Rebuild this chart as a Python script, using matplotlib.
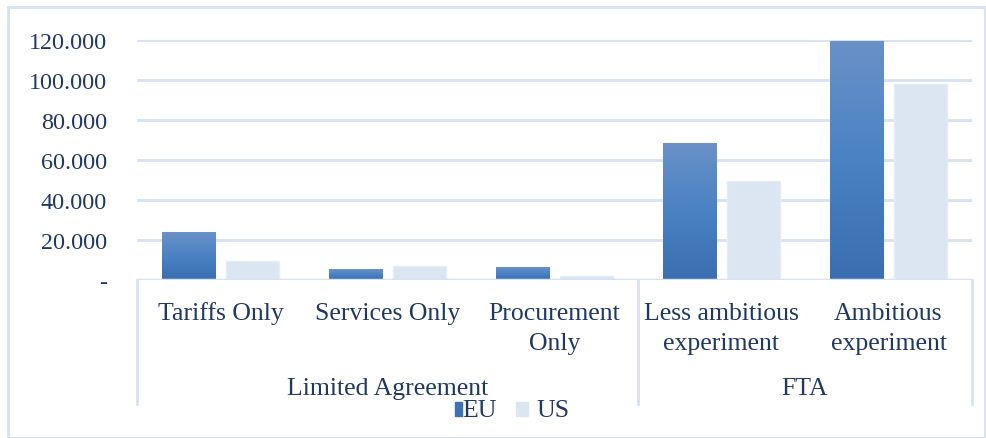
import matplotlib
matplotlib.use("Agg")
import matplotlib.pyplot as plt
import numpy as np
from matplotlib.patches import Rectangle
from matplotlib.lines import Line2D
import matplotlib.transforms as mtransforms
from matplotlib.colors import LinearSegmentedColormap

categories = ["Tariffs Only", "Services Only", "Procurement\nOnly",
              "Less ambitious\nexperiment", "Ambitious\nexperiment"]
groups = ["Limited Agreement", "FTA"]
group_sizes = [3, 2]
eu = [24.0, 5.5, 6.5, 68.5, 119.5]
us = [9.3, 7.2, 1.8, 49.5, 98.0]
yticks = [0, 20, 40, 60, 80, 100, 120]
ytick_labels = ["-", "20.000", "40.000", "60.000", "80.000", "100.000", "120.000"]
series = ["EU", "US"]

W, H = 987, 439
fig = plt.figure(figsize=(W / 100, H / 100), dpi=100)
plt.rcParams['font.family'] = ['Liberation Serif', 'DejaVu Serif']
txt = "#203864"
grid_c = "#D6E1F2"
us_c = "#DCE6F2"
fs = 18.5

ax = fig.add_axes([137 / W, 1 - 281 / H, (972 - 137) / W, (281 - 41) / H])
ax.set_xlim(-0.5, len(categories) - 0.5)
ax.set_ylim(0, 120)
for s in ax.spines.values():
    s.set_visible(False)
ax.set_yticks(yticks)
ax.set_yticklabels(ytick_labels, fontsize=17.4, color=txt)
ax.tick_params(axis='y', length=0, pad=21.6)
ax.set_xticks([])
ax.yaxis.grid(True, color=grid_c, lw=2)
ax.set_axisbelow(True)

x = np.arange(len(categories))
bw = 0.32
off = 0.19
grad = np.linspace(0, 1, 256).reshape(-1, 1)
cmap = LinearSegmentedColormap.from_list("g", ["#3A6EB0", "#4A82C4", "#6A91C8"])
for xi, v in zip(x, eu):
    ax.imshow(grad, cmap=cmap, origin='lower', aspect='auto',
              extent=(xi - off - bw / 2, xi - off + bw / 2, 0, v), zorder=2)
ax.bar(x + off, us, width=bw, color=us_c, edgecolor="#E4ECF6", lw=1, zorder=2)
ax.set_xlim(-0.5, len(categories) - 0.5)
ax.set_ylim(0, 120)

ax.axhline(0, color=grid_c, lw=2.5, zorder=3)

trans = mtransforms.blended_transform_factory(ax.transData, fig.transFigure)
def fy(py):
    return 1 - py / H

bounds = [-0.5]
acc = -0.5
for g in group_sizes:
    acc += g
    bounds.append(acc)
for b in bounds:
    fig.add_artist(Line2D([b, b], [fy(281), fy(405)], transform=trans,
                          color=grid_c, lw=2))

for xi, c in zip(x, categories):
    for k, line in enumerate(c.split("\n")):
        fig.text(xi, fy(320 + 30 * k), line, transform=trans, ha='center',
                 va='baseline', fontsize=fs, color=txt)

start = -0.5
for g, n in zip(groups, group_sizes):
    fig.text(start + n / 2, fy(395), g, transform=trans, ha='center', va='baseline',
             fontsize=fs, color=txt)
    start += n

# legend
fig.add_artist(Rectangle((455 / W, fy(417)), 7 / W, 14 / H, transform=fig.transFigure,
                         color="#3F72B4"))
fig.text(462 / W, fy(417), series[0], ha='left', va='baseline', fontsize=fs, color=txt)
fig.add_artist(Rectangle((516 / W, fy(417)), 12 / W, 14 / H, transform=fig.transFigure,
                         color=us_c))
fig.text(536 / W, fy(417), series[1], ha='left', va='baseline', fontsize=fs, color=txt)

fig.add_artist(Rectangle((8 / W, 0), (W - 10) / W, 1 - 8 / H, transform=fig.transFigure,
                         fill=False, edgecolor=grid_c, lw=2))

fig.savefig("out.png", dpi=100)
